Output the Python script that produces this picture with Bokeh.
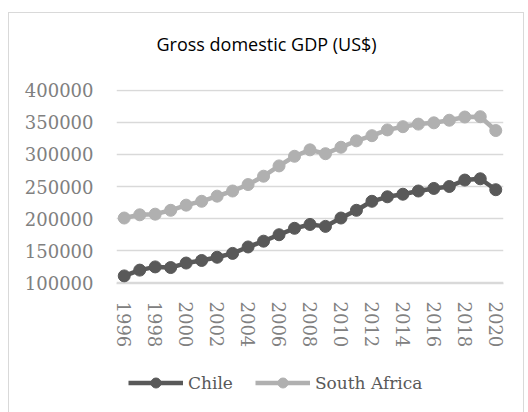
from bokeh.plotting import figure
from bokeh.models import Range1d, FixedTicker, Legend, LegendItem, ColumnDataSource
from bokeh.layouts import column
from bokeh.embed import file_html
from bokeh.resources import INLINE

years = list(range(1996, 2021))
chile = [111000, 120000, 125000, 124000, 131000, 135000, 140000, 146000, 156000, 165000,
         175000, 185000, 191000, 188000, 201000, 213000, 227000, 234000, 238000, 243000,
         247000, 250000, 260000, 262000, 245000]
south_africa = [201000, 206000, 207000, 213000, 221000, 227000, 235000, 243000, 253000, 266000,
                282000, 297000, 307000, 301000, 311000, 321000, 329000, 338000, 343000, 347000,
                349000, 353000, 358000, 358500, 337000]
y_ticks = [100000, 150000, 200000, 250000, 300000, 350000, 400000]
x_ticks = list(range(1996, 2021, 2))
title_text = "Gross domestic GDP (US$)"
series_names = ["Chile", "South Africa"]

src = ColumnDataSource(dict(year=years, chile=chile, sa=south_africa))

p = figure(width=514, height=332, frame_width=387, frame_height=194,
           output_backend="svg", toolbar_location=None,
           x_range=Range1d(1995.5, 2020.5), y_range=Range1d(99200, 400800),
           min_border_left=107, min_border_right=20, min_border_top=76, min_border_bottom=62)
p.outline_line_color = None
p.background_fill_color = "white"
p.border_fill_color = "white"

p.title.text = title_text + "\n"
p.title.text_font = "Open Sans"
p.title.text_font_size = "18px"
p.title.text_font_style = "normal"
p.title.text_color = "#000000"
p.title.align = "left"
p.title.offset = 40
p.title.standoff = 19

# axes
p.xaxis.ticker = FixedTicker(ticks=x_ticks)
p.xaxis.major_label_orientation = "vertical"
p.xaxis.major_label_text_font = "DejaVu Serif"
p.xaxis.major_label_text_font_size = "18px"
p.xaxis.major_label_text_color = "#808080"
p.xaxis.major_tick_line_color = None
p.xaxis.minor_tick_line_color = None
p.xaxis.axis_line_color = "#d9d9d9"
p.xaxis.axis_line_width = 1.5
p.xaxis.major_label_standoff = 12

p.yaxis.ticker = FixedTicker(ticks=y_ticks)
p.yaxis.major_label_text_font = "DejaVu Serif"
p.yaxis.major_label_text_font_size = "18px"
p.yaxis.major_label_text_color = "#808080"
p.yaxis.major_tick_line_color = None
p.yaxis.minor_tick_line_color = None
p.yaxis.axis_line_color = None
p.yaxis.major_label_standoff = 17
p.yaxis.formatter.use_scientific = False

p.xgrid.grid_line_color = None
p.ygrid.grid_line_color = "#d9d9d9"
p.ygrid.grid_line_width = 1.5

colors = ["#595959", "#b0b0b0"]
p.line("year", "chile", source=src, line_color=colors[0], line_width=4.5)
p.scatter("year", "chile", source=src, size=12, fill_color=colors[0], line_color=colors[0])
p.line("year", "sa", source=src, line_color=colors[1], line_width=4.5)
p.scatter("year", "sa", source=src, size=12, fill_color=colors[1], line_color=colors[1])

# legend strip below the chart: same series and styles, drawn outside its visible range
lf = figure(width=514, height=69, output_backend="svg", toolbar_location=None,
            x_axis_type=None, y_axis_type=None,
            x_range=Range1d(0, 1), y_range=Range1d(0, 1),
            min_border_left=107, min_border_right=20, min_border_top=8, min_border_bottom=0)
lf.outline_line_color = None
lf.background_fill_color = "white"
lf.border_fill_color = "white"
lr1 = lf.line("year", "chile", source=src, line_color=colors[0], line_width=4.5)
ls1 = lf.scatter("year", "chile", source=src, size=12, fill_color=colors[0], line_color=colors[0])
lr2 = lf.line("year", "sa", source=src, line_color=colors[1], line_width=4.5)
ls2 = lf.scatter("year", "sa", source=src, size=12, fill_color=colors[1], line_color=colors[1])

legend = Legend(items=[LegendItem(label=series_names[0], renderers=[lr1, ls1], index=0),
                       LegendItem(label=series_names[1], renderers=[lr2, ls2], index=0)],
                orientation="horizontal", location="top_left", padding=0, margin=12,
                glyph_width=55, glyph_height=25, label_standoff=5, spacing=22,
                label_text_font="DejaVu Serif", label_text_font_size="17px",
                label_text_color="#595959", border_line_color=None,
                background_fill_alpha=0)
lf.add_layout(legend, "center")

layout = column(p, lf, margin=(12, 0, 0, 8), spacing=0,
                styles={"border": "1px solid #d9d9d9"})

open("out.html", "w").write(file_html(layout, INLINE))
